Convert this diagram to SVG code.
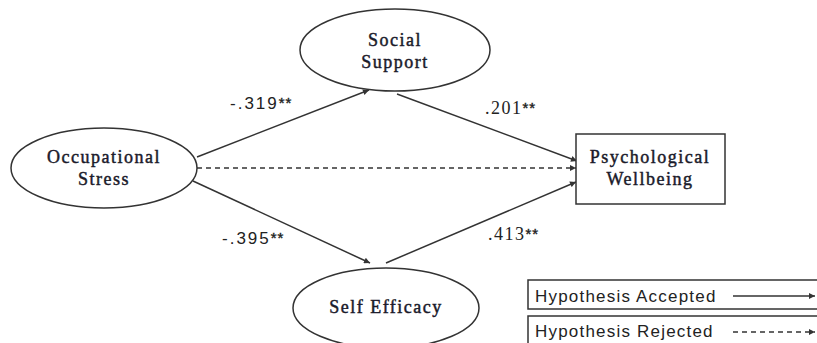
<svg xmlns="http://www.w3.org/2000/svg" width="817" height="343" viewBox="0 0 817 343">
<style>
.node{fill:#fff;stroke:#333;stroke-width:1.5}
.nt{font-family:"Liberation Serif",serif;font-size:18px;letter-spacing:1.5px;fill:#1a1a2a;stroke:#1a1a2a;stroke-width:0.45px;text-anchor:middle}
.ln{stroke:#333;stroke-width:1.5;fill:none}
.dash{stroke-dasharray:5 4}
.lbs{font-family:"Liberation Sans",sans-serif;font-size:17px;letter-spacing:2px;fill:#222}
.lbr{font-family:"Liberation Serif",serif;font-size:18px;letter-spacing:1.5px;fill:#222}
.ast{font-family:"Liberation Sans",sans-serif;font-size:15px;letter-spacing:1px;stroke:#222;stroke-width:0.4px}
.lg{font-family:"Liberation Sans",sans-serif;font-size:17px;letter-spacing:1.2px;fill:#222}
</style>
<defs>
<marker id="ah" viewBox="0 0 10 10" refX="10" refY="5" markerWidth="7" markerHeight="6" markerUnits="userSpaceOnUse" orient="auto">
<path d="M0,0 L10,5 L0,10 z" fill="#333"/>
</marker>
</defs>
<rect width="817" height="343" fill="#fff"/>
<g id="connectors">
<line class="ln" x1="197" y1="157" x2="369" y2="90" marker-end="url(#ah)"/>
<line class="ln dash" x1="197" y1="168" x2="576" y2="168" marker-end="url(#ah)"/>
<line class="ln" x1="193" y1="181" x2="370" y2="263" marker-end="url(#ah)"/>
<line class="ln" x1="397" y1="94" x2="577" y2="161" marker-end="url(#ah)"/>
<line class="ln" x1="386" y1="263" x2="576" y2="182" marker-end="url(#ah)"/>
</g>
<g id="labels">
<text class="lbs" x="230" y="109">-.319<tspan class="ast" dy="-1">**</tspan></text>
<text class="lbr" x="485" y="114">.201<tspan class="ast" dy="-1">**</tspan></text>
<text class="lbs" x="222" y="244">-.395<tspan class="ast" dy="-1">**</tspan></text>
<text class="lbr" x="488" y="240">.413<tspan class="ast" dy="-1">**</tspan></text>
</g>
<g id="occupational-stress">
<ellipse class="node" cx="104" cy="168" rx="93" ry="40"/>
<text class="nt" x="104" y="163">Occupational</text>
<text class="nt" x="104" y="185">Stress</text>
</g>
<g id="social-support">
<ellipse class="node" cx="395" cy="50" rx="95" ry="41"/>
<text class="nt" x="395" y="46">Social</text>
<text class="nt" x="395" y="68">Support</text>
</g>
<g id="psychological-wellbeing">
<rect class="node" x="576" y="134" width="149" height="70"/>
<text class="nt" x="650" y="163">Psychological</text>
<text class="nt" x="650" y="185">Wellbeing</text>
</g>
<g id="self-efficacy">
<ellipse class="node" cx="386" cy="308" rx="93" ry="40"/>
<text class="nt" x="386" y="313">Self Efficacy</text>
</g>
<g id="legend">
<rect class="node" x="528" y="280" width="300" height="29"/>
<text class="lg" x="535" y="302">Hypothesis Accepted</text>
<line class="ln" x1="733" y1="296" x2="815" y2="296" marker-end="url(#ah)"/>
<rect class="node" x="528" y="316" width="300" height="40"/>
<text class="lg" x="535" y="337">Hypothesis Rejected</text>
<line class="ln dash" x1="733" y1="332" x2="815" y2="332" marker-end="url(#ah)"/>
</g>
</svg>
